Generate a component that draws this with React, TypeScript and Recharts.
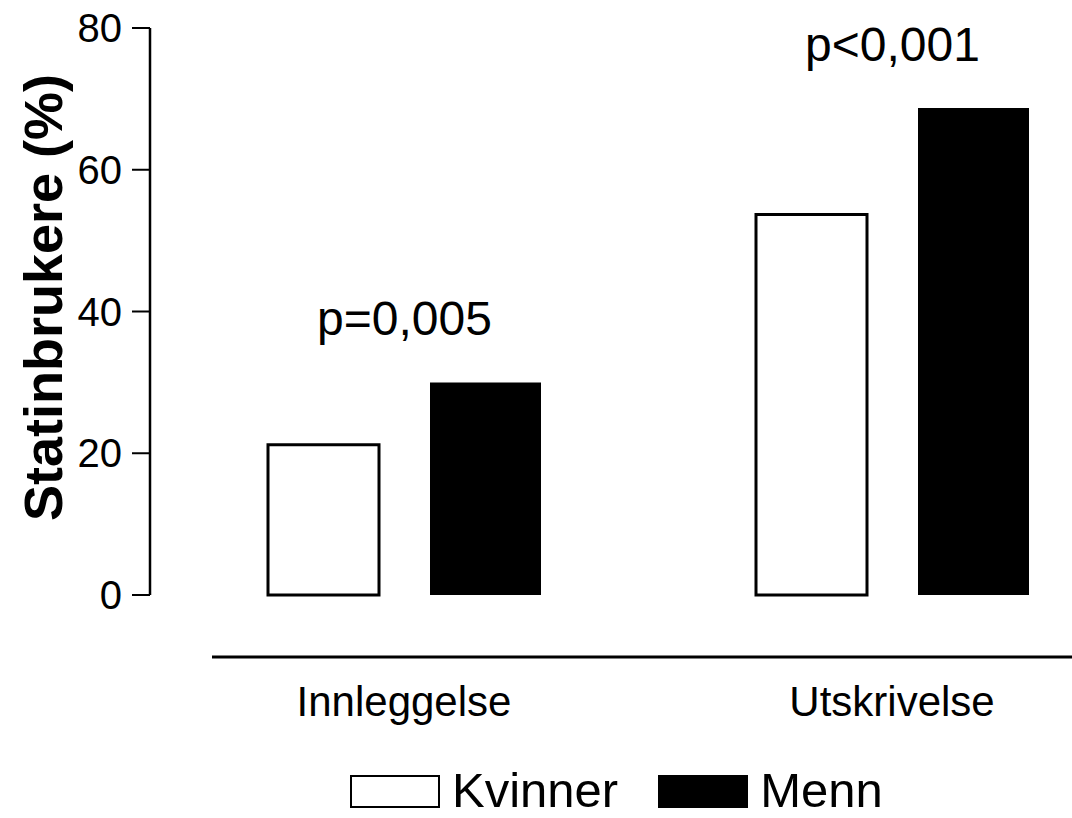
import { Bar, BarChart, LabelList, Legend, XAxis, YAxis } from "recharts";

// Statin users (%) by sex, at admission and at discharge.
const categories = ["Innleggelse", "Utskrivelse"];
const kvinner = [21.2, 53.7];
const menn = [30.0, 68.7];
const pLabels = ["p=0,005", "p<0,001"];
const yTicks = [0, 20, 40, 60, 80];

const data = categories.map((c, i) => ({
  name: c,
  kvinner: kvinner[i],
  menn: menn[i],
  p: pLabels[i],
}));

const FONT = '"Liberation Sans", Arial, Helvetica, sans-serif';
const BAR_SIZE = 111;
const BAR_GAP = 51;
const GROUP_W = BAR_SIZE * 2 + BAR_GAP;

const SERIES = [
  { key: "kvinner", name: "Kvinner", fill: "#ffffff" },
  { key: "menn", name: "Menn", fill: "#000000" },
];

function CategoryTick({ x, y, payload }: any) {
  return (
    <text x={x} y={y + 121} textAnchor="middle" fontSize={42} fill="#000" fontFamily={FONT}>
      {payload.value}
    </text>
  );
}

// Separate horizontal rule below the bars, drawn from the x-axis box.
function Separator({ viewBox }: any) {
  if (!viewBox) return null;
  const y = viewBox.y + 62;
  return (
    <line
      x1={viewBox.x + 62}
      x2={viewBox.x + viewBox.width}
      y1={y}
      y2={y}
      stroke="#000"
      strokeWidth={3}
    />
  );
}

function YTitle({ viewBox }: any) {
  if (!viewBox) return null;
  const x = viewBox.x + 62;
  const y = viewBox.y + viewBox.height / 2 - 14;
  return (
    <text
      x={x}
      y={y}
      transform={`rotate(-90, ${x}, ${y})`}
      textAnchor="middle"
      fontSize={54}
      fontWeight="bold"
      fill="#000"
      fontFamily={FONT}
    >
      Statinbrukere (%)
    </text>
  );
}

// p-value centred over the whole group, placed from the taller (Menn) bar.
function PLabel({ x, y, width, value }: any) {
  const cx = x + width - GROUP_W / 2;
  return (
    <text x={cx} y={y - 47} textAnchor="middle" fontSize={48} fill="#000" fontFamily={FONT}>
      {value}
    </text>
  );
}

function LegendBox() {
  return (
    <div
      style={{
        display: "flex",
        alignItems: "center",
        height: 44,
        paddingLeft: 350,
        fontFamily: FONT,
        fontSize: 49,
        lineHeight: "44px",
        color: "#000",
      }}
    >
      {SERIES.map((s, i) => (
        <span key={s.key} style={{ display: "flex", alignItems: "center", marginLeft: i ? 40 : 0 }}>
          <span
            style={{
              display: "inline-block",
              width: 90,
              height: 33,
              boxSizing: "border-box",
              border: "2px solid #000",
              background: s.fill,
              marginRight: 12,
              marginTop: 2,
            }}
          />
          {s.name}
        </span>
      ))}
    </div>
  );
}

export default function App() {
  return (
    <div
      style={{
        position: "absolute",
        left: 0,
        top: 0,
        width: 1072,
        height: 818,
        overflow: "hidden",
        background: "#fff",
      }}
    >
      <BarChart
        width={1136}
        height={818}
        data={data}
        margin={{ top: 28, right: 0, left: 0, bottom: 6 }}
        barSize={BAR_SIZE}
        barGap={BAR_GAP}
      >
        <XAxis
          dataKey="name"
          axisLine={false}
          tickLine={false}
          tickSize={0}
          tickMargin={0}
          height={173}
          padding={{ left: 10, right: 0 }}
          tick={<CategoryTick />}
          label={{ content: <Separator /> }}
        />
        <YAxis
          domain={[0, 80]}
          ticks={yTicks}
          width={150}
          axisLine={{ stroke: "#000", strokeWidth: 2.5 }}
          tickLine={{ stroke: "#000", strokeWidth: 2 }}
          tickSize={18}
          tickMargin={10}
          tick={{ fill: "#000", fontSize: 40, fontFamily: FONT }}
          label={{ content: <YTitle /> }}
        />
        <Legend verticalAlign="bottom" content={() => <LegendBox />} />
        <Bar
          dataKey="kvinner"
          name="Kvinner"
          fill="#ffffff"
          stroke="#000"
          strokeWidth={3}
          isAnimationActive={false}
        />
        <Bar dataKey="menn" name="Menn" fill="#000000" isAnimationActive={false}>
          <LabelList dataKey="p" content={<PLabel />} />
        </Bar>
      </BarChart>
    </div>
  );
}
